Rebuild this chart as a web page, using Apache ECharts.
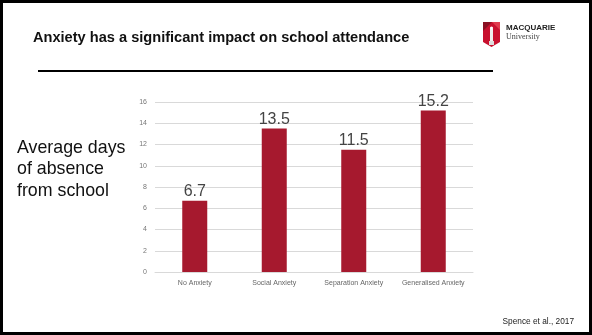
<!DOCTYPE html>
<html>
<head>
<meta charset="utf-8">
<script src="https://cdn.jsdelivr.net/npm/echarts@6/dist/echarts.min.js"></script>
<style>
  html, body { margin: 0; padding: 0; background: #fff; }
  #chart { width: 592px; height: 335px; }
</style>
</head>
<body>
<div id="chart"></div>
<script>
// Average days of absence from school by anxiety group
const categories = ['No Anxiety', 'Social Anxiety', 'Separation Anxiety', 'Generalised Anxiety'];
const absenceDays = [6.7, 13.5, 11.5, 15.2];
const yTicks = [0, 2, 4, 6, 8, 10, 12, 14, 16];

const barColor = '#A6192E';
const font = '"Liberation Sans", Arial, sans-serif';

const chart = echarts.init(document.getElementById('chart'), null, { renderer: 'canvas' });

chart.setOption({
  backgroundColor: '#ffffff',
  animation: false,
  grid: { left: 155, right: 119, top: 102, bottom: 63, containLabel: false },
  xAxis: {
    type: 'category',
    data: categories,
    axisLine: { show: true, lineStyle: { color: '#d9d9d9', width: 1 } },
    axisTick: { show: false },
    axisLabel: { interval: 0, color: '#666', fontSize: 7, fontFamily: font, margin: 8 }
  },
  yAxis: {
    type: 'value',
    min: yTicks[0],
    max: yTicks[yTicks.length - 1],
    interval: yTicks[1] - yTicks[0],
    axisLine: { show: false },
    axisTick: { show: false },
    splitLine: { lineStyle: { color: '#d9d9d9', width: 1 } },
    axisLabel: { color: '#777', fontSize: 7, fontFamily: font, margin: 8 }
  },
  series: [{
    type: 'bar',
    data: absenceDays,
    barWidth: 25,
    itemStyle: { color: barColor },
    label: {
      show: true,
      position: 'top',
      distance: 1,
      color: '#444',
      fontSize: 16,
      fontFamily: font,
      formatter: p => p.value.toFixed(1)
    }
  }],
  graphic: [
    // slide frame
    { type: 'rect', shape: { x: 1.5, y: 1.5, width: 589, height: 332 },
      style: { fill: 'none', stroke: '#000', lineWidth: 3 }, z: 100 },
    // heading
    { type: 'text', left: 33, top: 30,
      style: { text: 'Anxiety has a significant impact on school attendance',
               font: 'bold 14.6px ' + font, fill: '#111' } },
    // rule under heading
    { type: 'rect', shape: { x: 38, y: 70, width: 455, height: 2 }, style: { fill: '#000' } },
    // university mark
    { type: 'group', left: 483, top: 22, children: [
      { type: 'rect', shape: { x: 0, y: 0, width: 17, height: 20 }, style: { fill: '#C8102E' } },
      { type: 'polygon', shape: { points: [[0, 20], [8.5, 25], [17, 20]] }, style: { fill: '#C8102E' } },
      { type: 'polygon', shape: { points: [[0, 0], [9, 0], [0, 9]] }, style: { fill: '#8A1022' } },
      { type: 'polygon', shape: { points: [[9, 0], [17, 0], [17, 8]] }, style: { fill: '#E03B4E' } },
      { type: 'rect', shape: { x: 7, y: 7, width: 3, height: 13 }, style: { fill: '#eee' } },
      { type: 'rect', shape: { x: 6, y: 19, width: 5, height: 4 }, style: { fill: '#ddd' } },
      { type: 'circle', shape: { cx: 8.5, cy: 6, r: 1.6 }, style: { fill: '#fff' } }
    ] },
    { type: 'text', left: 506, top: 24,
      style: { text: 'MACQUARIE', font: 'bold 8px ' + font, fill: '#222' } },
    { type: 'text', left: 506, top: 33,
      style: { text: 'University', font: '8px "Liberation Serif", "Times New Roman", serif', fill: '#444' } },
    // axis title block on the left
    { type: 'text', left: 17, top: 137,
      style: { text: 'Average days\nof absence\nfrom school', font: '17.8px ' + font,
               lineHeight: 21.5, fill: '#111' } },
    // citation
    { type: 'text', right: 18, top: 318,
      style: { text: 'Spence et al., 2017', font: '8.3px ' + font, fill: '#222', textAlign: 'right' } }
  ]
});
</script>
</body>
</html>
